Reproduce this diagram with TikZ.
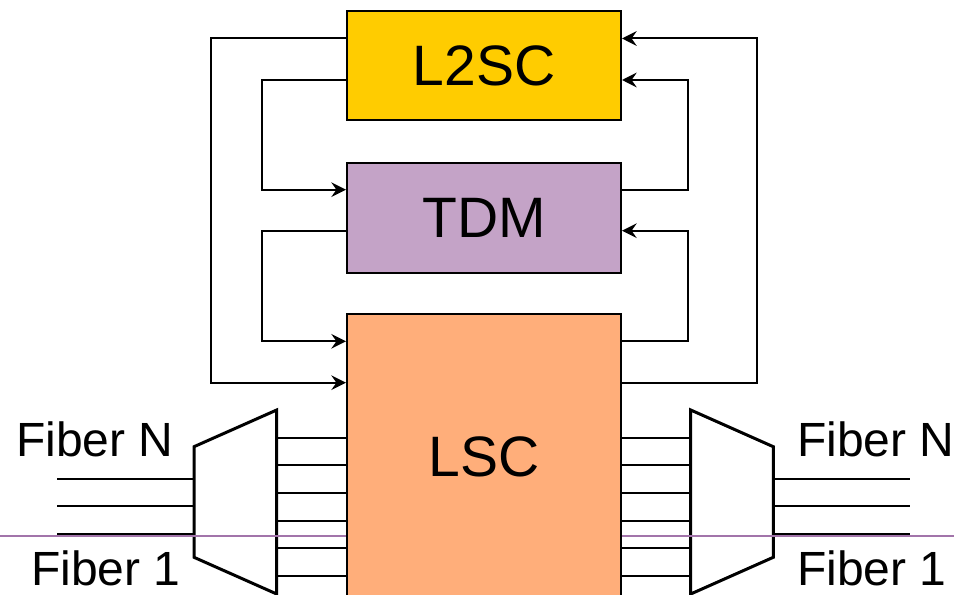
\documentclass[tikz,border=0pt]{standalone}
\usepackage{fontspec}
\setmainfont{Liberation Sans}
\usetikzlibrary{arrows.meta,calc}
\definecolor{l2scY}{HTML}{FFCC00}
\definecolor{tdmP}{HTML}{C4A3C7}
\definecolor{lscO}{HTML}{FFAE7A}
\definecolor{guideP}{HTML}{A274AA}
\begin{document}
\begin{tikzpicture}[x=0.75pt,y=-0.75pt,
  box/.style={draw=black, line width=1.5pt, minimum width=205.5pt, inner sep=0pt,
    font=\fontsize{42.75}{50}\selectfont},
  arr/.style={line width=1.5pt, -{Stealth[length=11pt,width=11pt,inset=3.8pt]}},
  wire/.style={line width=1.5pt},
  mux/.style={draw=black, fill=white, line width=2.25pt, line join=miter},
  fib/.style={inner sep=0pt, anchor=base west, font=\fontsize{36}{42}\selectfont}]
\useasboundingbox (0,0) rectangle (954,595);
\clip (0,0) rectangle (954,595);
% multiplexers
\draw[mux] (194,446.7) coordinate (ml1) -- (276.7,410) coordinate (ml2) -- (276.7,594) coordinate (ml3) -- (194,557.3) coordinate (ml4) -- cycle;
\draw[mux] (690.7,410) coordinate (mr1) -- (773.3,446.7) coordinate (mr2) -- (773.3,557.3) coordinate (mr3) -- (690.7,594) coordinate (mr4) -- cycle;
% fibre lines
\foreach \y in {479,506.3,534.3}{
  \draw[wire] (57,\y) -- (ml1 |- 0,\y);
  \draw[wire] (mr2 |- 0,\y) -- (910,\y);
}
% guide line
\draw[guideP, line width=1.5pt] (0,536.3) -- (954,536.3);
% labels
\node[fib] (fnl) at (16,456) {Fiber N};
\node[fib] (f1l) at (31,585) {Fiber 1};
\node[fib] (fnr) at (797,456) {Fiber N};
\node[fib] (f1r) at (797,585) {Fiber 1};
% boxes
\node[box, fill=l2scY, minimum height=81.75pt] (L2SC) at (484,65.5) {L2SC};
\node[box, fill=tdmP, minimum height=82.5pt] (TDM) at (484,217.7) {TDM};
\node[box, fill=lscO, minimum height=214.5pt] (LSC) at (484,457) {LSC};
% port rows
\coordinate (ya) at (0,38.5);
\coordinate (yb) at (0,80);
\coordinate (yc) at (0,189.7);
\coordinate (yd) at (0,230.7);
\coordinate (ye) at (0,341.3);
\coordinate (yf) at (0,382.7);
\coordinate (xa) at (211,0);
\coordinate (xb) at (262,0);
\coordinate (xc) at (688,0);
\coordinate (xd) at (756.5,0);
% left connectors
\draw[arr] (L2SC.west |- ya) -- (xa |- ya) -- (xa |- yf) -- (LSC.west |- yf);
\draw[arr] (L2SC.west |- yb) -- (xb |- yb) -- (xb |- yc) -- (TDM.west |- yc);
\draw[arr] (TDM.west |- yd) -- (xb |- yd) -- (xb |- ye) -- (LSC.west |- ye);
% right connectors
\draw[arr] (LSC.east |- yf) -- (xd |- yf) -- (xd |- ya) -- (L2SC.east |- ya);
\draw[arr] (TDM.east |- yc) -- (xc |- yc) -- (xc |- yb) -- (L2SC.east |- yb);
\draw[arr] (LSC.east |- ye) -- (xc |- ye) -- (xc |- yd) -- (TDM.east |- yd);
% channel lines between muxes and LSC
\foreach \y in {437.7,465.3,493.3,521,548.3,576}{
  \draw[wire] (ml2 |- 0,\y) -- (LSC.west |- 0,\y);
  \draw[wire] (LSC.east |- 0,\y) -- (mr1 |- 0,\y);
}
\end{tikzpicture}
\end{document}
